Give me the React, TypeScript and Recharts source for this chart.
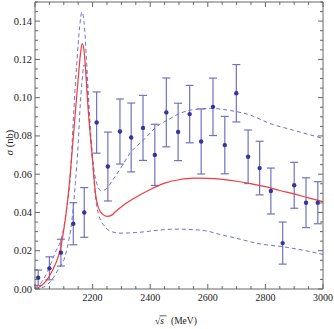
import React from "react";
import {
  ComposedChart,
  ErrorBar,
  Line,
  Scatter,
  XAxis,
  YAxis,
} from "recharts";

const pointEnergy = [
  2011, 2050, 2090, 2133, 2171, 2214, 2253, 2295, 2334, 2375, 2416, 2456, 2497,
  2537, 2577, 2618, 2659, 2699, 2740, 2780, 2819, 2860, 2900, 2941, 2982,
];
const pointSigma = [
  0.0059, 0.0108, 0.019, 0.0341, 0.04, 0.087, 0.064, 0.0823, 0.0792, 0.0842,
  0.0701, 0.0923, 0.0821, 0.0914, 0.0771, 0.0952, 0.0752, 0.1023, 0.0691,
  0.0632, 0.0512, 0.024, 0.0542, 0.0451, 0.0451,
];
const pointError = [
  0.004, 0.006, 0.007, 0.011, 0.013, 0.016, 0.018, 0.017, 0.018, 0.017, 0.016,
  0.018, 0.015, 0.015, 0.017, 0.015, 0.015, 0.015, 0.014, 0.014, 0.012, 0.011,
  0.012, 0.013, 0.011,
];

// fit curve (solid red) and error band (dashed blue), [E, sigma]
const fitCentral: [number, number][] = [
  [2000, 0], [2020, 0.0015], [2040, 0.0045], [2060, 0.0095], [2080, 0.0165],
  [2090, 0.022], [2100, 0.031], [2110, 0.042], [2120, 0.056], [2130, 0.074],
  [2140, 0.092], [2150, 0.11], [2158, 0.123], [2164, 0.1283], [2170, 0.125],
  [2175, 0.116], [2180, 0.104], [2185, 0.093], [2190, 0.084], [2200, 0.067],
  [2210, 0.05], [2220, 0.0425], [2235, 0.039], [2250, 0.038], [2265, 0.0385],
  [2280, 0.0405], [2300, 0.043], [2340, 0.047], [2400, 0.052], [2450, 0.0553],
  [2500, 0.0571], [2550, 0.0579], [2600, 0.0578], [2650, 0.0573],
  [2700, 0.0563], [2750, 0.055], [2800, 0.0535], [2850, 0.0515],
  [2900, 0.0497], [2950, 0.0476], [3000, 0.0456],
];
const bandUpper: [number, number][] = [
  [2000, 0.0005], [2025, 0.004], [2046, 0.0099], [2070, 0.019], [2093, 0.0273],
  [2110, 0.042], [2123, 0.06], [2135, 0.094], [2145, 0.118], [2155, 0.137],
  [2163, 0.1448], [2170, 0.14], [2178, 0.122], [2186, 0.1], [2195, 0.078],
  [2205, 0.062], [2215, 0.055], [2230, 0.0513], [2245, 0.052], [2270, 0.057],
  [2295, 0.0625], [2330, 0.071], [2376, 0.0778], [2434, 0.0862],
  [2457, 0.088], [2503, 0.0918], [2540, 0.0935], [2580, 0.0942],
  [2610, 0.0944], [2677, 0.0933], [2747, 0.0909], [2816, 0.0865],
  [2897, 0.083], [3000, 0.0787],
];
const bandLower: [number, number][] = [
  [2000, 0], [2030, 0.001], [2058, 0.0047], [2080, 0.01], [2104, 0.0169],
  [2118, 0.026], [2127, 0.0343], [2140, 0.055], [2150, 0.076], [2156, 0.0935],
  [2163, 0.108], [2170, 0.117], [2176, 0.116], [2182, 0.104], [2190, 0.085],
  [2200, 0.066], [2210, 0.048], [2220, 0.0395], [2243, 0.0325], [2270, 0.0298],
  [2295, 0.0292], [2350, 0.0295], [2434, 0.0308], [2486, 0.0313],
  [2550, 0.031], [2600, 0.0302], [2642, 0.0285], [2700, 0.0265],
  [2770, 0.0239], [2874, 0.0218], [3000, 0.0181],
];

const xLabels = [2200, 2400, 2600, 2800, 3000];
const yLabels = [0, 0.02, 0.04, 0.06, 0.08, 0.1, 0.12, 0.14];

const xTicks = Array.from({ length: 21 }, (_, i) => 2000 + i * 50);
const yTicks = Array.from({ length: 31 }, (_, i) => Math.round(i * 5) / 1000);

const AXIS = "#666";
const FONT = "'Liberation Serif', 'Times New Roman', serif";

const points = pointEnergy.map((x, i) => ({
  x,
  y: pointSigma[i],
  err: pointError[i],
}));
const toRows = (c: [number, number][]) => c.map(([x, y]) => ({ x, y }));

const isXMajor = (v: number) => v % 200 === 0;
const isYMajor = (v: number) => Math.round(v * 1000) % 20 === 0;

function BottomTick(props: any) {
  const { x, y, payload } = props;
  const v = payload.value;
  return (
    <g>
      <line x1={x} y1={y} x2={x} y2={y - (isXMajor(v) ? 5 : 3)} stroke={AXIS} />
      {xLabels.includes(v) && (
        <text x={x} y={y + 12} textAnchor="middle" fontSize={10} fontFamily={FONT} fill="#222">
          {v}
        </text>
      )}
    </g>
  );
}

function TopTick(props: any) {
  const { x, y, payload } = props;
  return <line x1={x} y1={y} x2={x} y2={y + (isXMajor(payload.value) ? 5 : 3)} stroke={AXIS} />;
}

function LeftTick(props: any) {
  const { x, y, payload } = props;
  const v = payload.value;
  const labelled = yLabels.some((l) => Math.abs(l - v) < 1e-9);
  return (
    <g>
      <line x1={x} y1={y} x2={x + (isYMajor(v) ? 5 : 3)} y2={y} stroke={AXIS} />
      {labelled && (
        <text x={x - 3} y={y + 3.5} textAnchor="end" fontSize={10.5} fontFamily={FONT} fill="#222">
          {v.toFixed(2)}
        </text>
      )}
    </g>
  );
}

function RightTick(props: any) {
  const { x, y, payload } = props;
  return <line x1={x} y1={y} x2={x - (isYMajor(payload.value) ? 5 : 3)} y2={y} stroke={AXIS} />;
}

function Dot(props: any) {
  return <circle cx={props.cx} cy={props.cy} r={2.2} fill="#34349a" />;
}

export default function App() {
  return (
    <div style={{ position: "absolute", left: 0, top: 0 }}>
      <ComposedChart width={334} height={329} margin={{ top: 1, right: 10, bottom: 0, left: 0 }}>
        <XAxis
          xAxisId="b"
          dataKey="x"
          type="number"
          domain={[2000, 3000]}
          ticks={xTicks}
          interval={0}
          height={40}
          tickSize={0}
          tickMargin={0}
          tickLine={false}
          tick={BottomTick}
          stroke={AXIS}
          allowDataOverflow
          label={{
            content: () => (
              <g>
                <text x={155} y={323.5} textAnchor="start" fontSize={9.5} fontFamily={FONT} fill="#222">
                  √<tspan fontStyle="italic">s</tspan>
                </text>
                <text x={171} y={323.5} textAnchor="start" fontSize={9.5} fontFamily={FONT} fill="#222">
                  (MeV)
                </text>
                <line x1={159.5} y1={315.8} x2={166.5} y2={315.8} stroke="#222" strokeWidth={0.7} />
              </g>
            ),
          }}
        />
        <XAxis
          xAxisId="t"
          orientation="top"
          dataKey="x"
          type="number"
          domain={[2000, 3000]}
          ticks={xTicks}
          interval={0}
          height={1}
          tickSize={0}
          tickMargin={0}
          tickLine={false}
          tick={TopTick}
          stroke={AXIS}
          allowDataOverflow
        />
        <YAxis
          yAxisId="l"
          type="number"
          domain={[0, 0.15]}
          ticks={yTicks}
          interval={0}
          width={35}
          tickSize={0}
          tickMargin={0}
          tickLine={false}
          tick={LeftTick}
          stroke={AXIS}
          allowDataOverflow
          label={{
            content: () => (
              <text
                transform="translate(12.5,142.5) rotate(-90)"
                textAnchor="middle"
                fontSize={10.5}
                fontFamily={FONT}
                fill="#222"
              >
                <tspan fontStyle="italic">σ</tspan> (nb)
              </text>
            ),
          }}
        />
        <YAxis
          yAxisId="r"
          orientation="right"
          type="number"
          domain={[0, 0.15]}
          ticks={yTicks}
          interval={0}
          width={1}
          tickSize={0}
          tickMargin={0}
          tickLine={false}
          tick={RightTick}
          stroke={AXIS}
          allowDataOverflow
        />

        <Scatter
          xAxisId="b"
          yAxisId="l"
          data={points}
          dataKey="y"
          shape={Dot}
          isAnimationActive={false}
        >
          <ErrorBar
            dataKey="err"
            direction="y"
            width={4}
            stroke="#7272bf"
            strokeWidth={1.2}
            isAnimationActive={false}
          />
        </Scatter>

        <Line
          xAxisId="b"
          yAxisId="l"
          data={toRows(bandUpper)}
          dataKey="y"
          type="monotone"
          stroke="#6f6fcc"
          strokeWidth={1}
          strokeDasharray="4 3"
          dot={false}
          isAnimationActive={false}
        />
        <Line
          xAxisId="b"
          yAxisId="l"
          data={toRows(bandLower)}
          dataKey="y"
          type="monotone"
          stroke="#6f6fcc"
          strokeWidth={1}
          strokeDasharray="4 3"
          dot={false}
          isAnimationActive={false}
        />
        <Line
          xAxisId="b"
          yAxisId="l"
          data={toRows(fitCentral)}
          dataKey="y"
          type="monotone"
          stroke="#f03c3c"
          strokeWidth={1.2}
          dot={false}
          isAnimationActive={false}
        />
      </ComposedChart>
    </div>
  );
}
